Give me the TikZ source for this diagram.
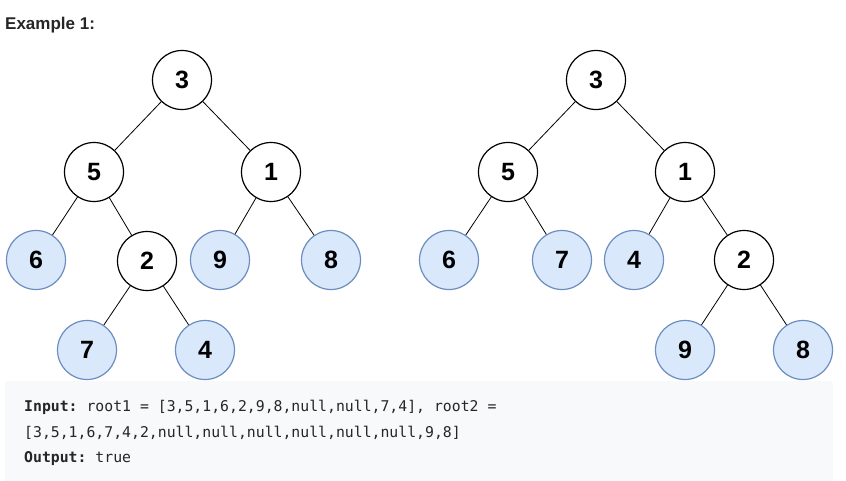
\documentclass[tikz,border=0pt]{standalone}
\usepackage{fontspec}
\setmainfont{Liberation Sans}
\setmonofont{DejaVu Sans Mono}
\usetikzlibrary{positioning}
\definecolor{leafblue}{HTML}{DAE8FC}
\definecolor{leafedge}{HTML}{6C8EBF}
\definecolor{codebg}{HTML}{F7F9FA}
\definecolor{codetext}{HTML}{262626}

\begin{document}
\begin{tikzpicture}[
    x=1pt, y=-1pt,
    inner/.style={circle, draw, line width=1.2pt, minimum size=59pt, inner sep=0pt, fill=white, font=\fontsize{25}{25}\selectfont\bfseries},
    leaf/.style={inner, draw=leafedge, fill=leafblue},
    edge/.style={draw, line width=0.8pt},
    codeline/.style={anchor=base west, inner sep=0pt, text=codetext, font=\ttfamily\fontsize{14.8}{14.8}\selectfont}
  ]
  \useasboundingbox (0,0) rectangle (846,480);

  % title
  \node[anchor=base west, inner sep=0pt, text=codetext, font=\bfseries\fontsize{17}{17}\selectfont] (title) at (5,29) {Example 1:};

  % first tree
  \node[inner] (a3) at (182,80) {3};
  \node[inner] (a5) at (94,172) {5};
  \node[inner] (a1) at (271,172) {1};
  \node[leaf]  (a6) at (36,260) {6};
  \node[inner] (a2) at (147,261) {2};
  \node[leaf]  (a9) at (220,260) {9};
  \node[leaf]  (a8) at (331,260) {8};
  \node[leaf]  (a7) at (87,350) {7};
  \node[leaf]  (a4) at (205,350) {4};

  % second tree
  \node[inner] (b3) at (596,80) {3};
  \node[inner] (b5) at (508,172) {5};
  \node[inner] (b1) at (685,172) {1};
  \node[leaf]  (b6) at (449,260) {6};
  \node[leaf]  (b7) at (562,260) {7};
  \node[leaf]  (b4) at (634,260) {4};
  \node[inner] (b2) at (744,260) {2};
  \node[leaf]  (b9) at (685,350) {9};
  \node[leaf]  (b8) at (803,350) {8};

  \foreach \p/\c in {a3/a5, a3/a1, a5/a6, a5/a2, a1/a9, a1/a8, a2/a7, a2/a4,
                     b3/b5, b3/b1, b5/b6, b5/b7, b1/b4, b1/b2, b2/b9, b2/b8}
    \draw[edge] (\p) -- (\c);

  % example box
  \fill[codebg, rounded corners=3pt] (5,381) rectangle (833,486);
  \node[codeline] (input) at (24,411) {\textbf{Input:} root1 = [3,5,1,6,2,9,8,null,null,7,4], root2 =};
  \node[codeline] (input2) at (24,437) {[3,5,1,6,7,4,2,null,null,null,null,null,null,9,8]};
  \node[codeline] (output) at (24,462) {\textbf{Output:} true};
\end{tikzpicture}
\end{document}
